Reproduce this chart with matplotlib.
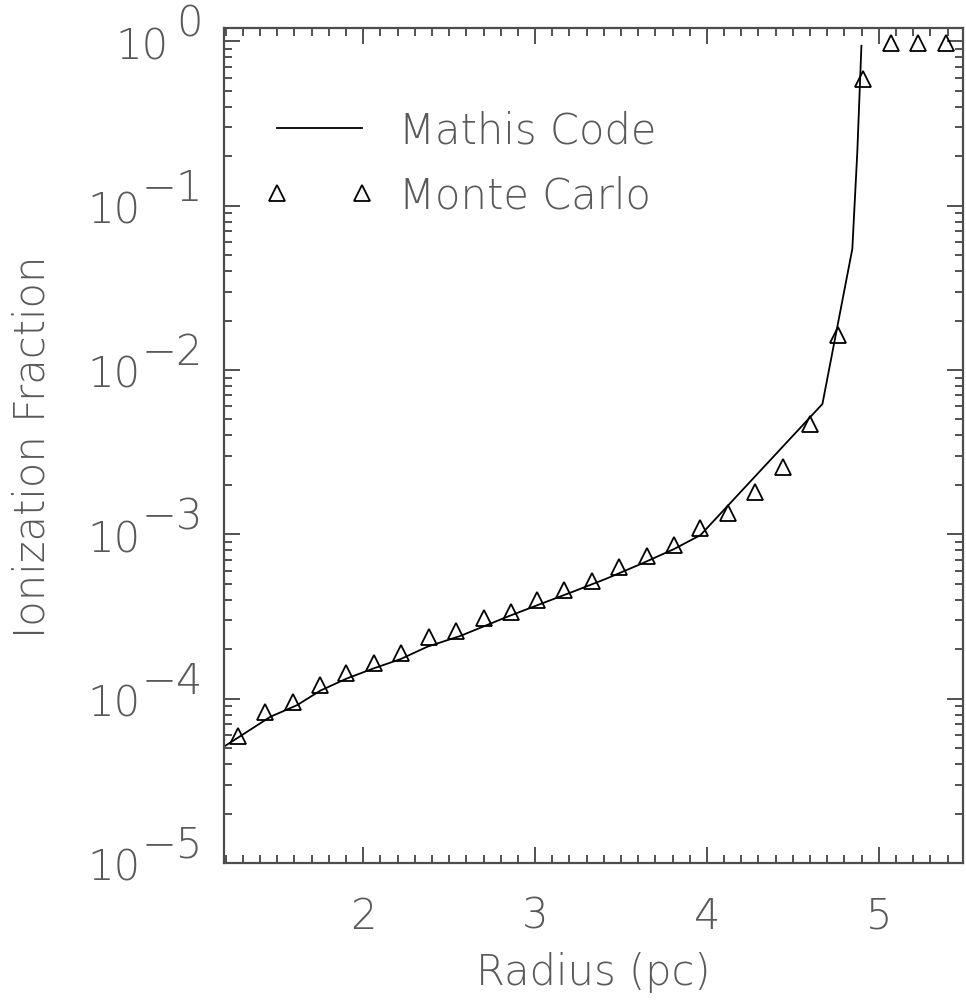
import matplotlib
matplotlib.use("Agg")
import matplotlib.pyplot as plt
import numpy as np
from matplotlib.ticker import MultipleLocator, LogLocator, NullFormatter
from matplotlib.lines import Line2D
from matplotlib import font_manager

# Mathis code curve (radius in pc, ionization fraction)
mathis_r = [1.198, 1.460, 1.616, 1.751, 1.907, 2.062, 2.217, 2.373, 2.566, 2.838,
            3.032, 3.226, 3.420, 3.614, 3.808, 3.963, 4.672, 4.846, 4.875, 4.899]
mathis_f = [5.17e-5, 7.76e-5, 9.14e-5, 1.12e-4, 1.33e-4, 1.53e-4, 1.74e-4, 2.07e-4,
            2.41e-4, 3.15e-4, 3.77e-4, 4.50e-4, 5.40e-4, 6.59e-4, 8.13e-4, 9.90e-4,
            6.21e-3, 5.45e-2, 0.212, 0.94]

# Monte Carlo points
mc_r = [1.27, 1.43, 1.59, 1.75, 1.90, 2.06, 2.22, 2.38, 2.54, 2.70, 2.86, 3.01, 3.17,
        3.33, 3.49, 3.65, 3.81, 3.96, 4.12, 4.28, 4.44, 4.60, 4.76, 4.91, 5.07, 5.23, 5.39]
mc_f = [5.92e-5, 8.26e-5, 9.5e-5, 1.21e-4, 1.43e-4, 1.65e-4, 1.90e-4, 2.37e-4, 2.58e-4,
        3.09e-4, 3.38e-4, 3.98e-4, 4.56e-4, 5.20e-4, 6.37e-4, 7.33e-4, 8.67e-4, 1.09e-3,
        1.35e-3, 1.81e-3, 2.57e-3, 4.67e-3, 1.63e-2, 0.593, 0.98, 0.98, 0.98]

x_ticks = [2, 3, 4, 5]
y_decades = [-5, -4, -3, -2, -1, 0]

# thin lettering, a stand-in for the stroke font of the original
names = {f.name for f in font_manager.fontManager.ttflist}
if any("ExtraLight" in f.fname for f in font_manager.fontManager.ttflist if f.name == "DejaVu Sans"):
    fam, wt = "DejaVu Sans", 200
elif "Lato" in names:
    fam, wt = "Lato", "light"
else:
    fam, wt = "DejaVu Sans", "normal"
plt.rcParams['font.family'] = [fam, 'DejaVu Sans']
plt.rcParams['font.weight'] = wt
plt.rcParams['axes.labelweight'] = wt

txt_color = "0.35"
fs = 30

fig = plt.figure(figsize=(9.66, 10.03), dpi=100)
ax = fig.add_axes([224 / 966, 1 - 864 / 1003, (963 - 224) / 966, (864 - 29.3) / 1003])

ax.plot(mathis_r, mathis_f, color='black', lw=1.3)
ax.plot(mc_r, mc_f, ls='none', marker='^', ms=11, mfc='none', mec='black', mew=1.3)

ax.set_yscale('log')
ax.set_xlim(1.19, 5.49)
ax.set_ylim(1e-5, 1.2)

ax.xaxis.set_major_locator(MultipleLocator(1))
ax.xaxis.set_minor_locator(MultipleLocator(0.1))
ax.yaxis.set_major_locator(LogLocator(base=10, numticks=10))
ax.yaxis.set_minor_locator(LogLocator(base=10, subs=np.arange(2, 10), numticks=20))
ax.yaxis.set_major_formatter(NullFormatter())
ax.yaxis.set_minor_formatter(NullFormatter())
ax.set_xticks(x_ticks)
ax.set_xticklabels([str(t) for t in x_ticks])

ax.tick_params(which='both', direction='in', top=True, right=True, color='0.2', width=1.2)
ax.tick_params(which='major', length=11.5)
ax.tick_params(which='minor', length=5.8)
ax.tick_params(axis='x', which='major', pad=23, labelsize=fs, labelcolor=txt_color)
for s in ax.spines.values():
    s.set_linewidth(1.6)
    s.set_color('0.3')

# y tick labels in the "10^-n" style with full-size exponents
for d in y_decades:
    exp_txt = "0" if d == 0 else "\u2212" + str(-d)
    ax.annotate(exp_txt, xy=(0, 10.0 ** d), xycoords=('axes fraction', 'data'),
                xytext=(-21, 6), textcoords='offset pixels', ha='right', va='baseline',
                fontsize=fs, color=txt_color, annotation_clip=False)
    base_off = -56 if d == 0 else -84
    ax.annotate("10", xy=(0, 10.0 ** d), xycoords=('axes fraction', 'data'),
                xytext=(base_off, -17), textcoords='offset pixels', ha='right', va='baseline',
                fontsize=fs, color=txt_color, annotation_clip=False)

ax.set_xlabel("Radius (pc)", fontsize=fs, color=txt_color, fontweight=wt)
ax.xaxis.label.set_va('baseline')
ax.xaxis.set_label_coords(0.5, (864 - 985) / 834.7)
ax.set_ylabel("Ionization Fraction", fontsize=fs, color=txt_color, fontweight=wt)
ax.yaxis.label.set_va('center')
ax.yaxis.label.set_ha('center')
ax.yaxis.set_label_coords((32 - 224) / 739, 0.5)

handles = [Line2D([], [], color='black', lw=1.3),
           Line2D([], [], ls='none', marker='^', ms=11, mfc='none', mec='black', mew=1.3)]
leg = ax.legend(handles, ["Mathis Code", "Monte Carlo"], loc='upper left',
                bbox_to_anchor=((264.5 - 224) / 739, 1 - (111 - 29.3) / 834.7),
                frameon=False, fontsize=fs, numpoints=2, handlelength=2.64,
                handletextpad=0.59, labelspacing=0.57, borderpad=0, borderaxespad=0)
for t in leg.get_texts():
    t.set_color(txt_color)

fig.savefig("out.png", dpi=100)
